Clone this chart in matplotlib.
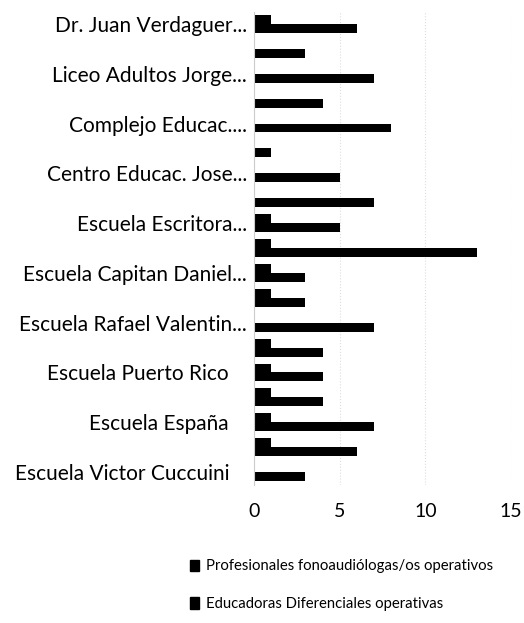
import matplotlib
matplotlib.use("Agg")
import matplotlib.pyplot as plt
from matplotlib.patches import Patch
from matplotlib.transforms import ScaledTranslation
import numpy as np

plt.rcParams['font.family'] = ['Lato', 'DejaVu Sans']

# categories from bottom to top; Excel only shows every other label
labels = ["Escuela Victor Cuccuini", "", "Escuela España", "", "Escuela Puerto Rico", "",
          "Escuela Rafael Valentin...", "", "Escuela Capitan Daniel...", "",
          "Escuela Escritora...", "", "Centro Educac. Jose...", "", "Complejo Educac....", "",
          "Liceo Adultos Jorge...", "", "Dr. Juan Verdaguer..."]
fono = [0, 1, 1, 1, 1, 1, 0, 1, 1, 1, 1, 0, 0, 0, 0, 0, 0, 0, 1]
educ = [3, 6, 7, 4, 4, 4, 7, 3, 3, 13, 5, 7, 5, 1, 8, 4, 7, 3, 6]
series_names = ["Profesionales fonoaudiólogas/os operativos",
                "Educadoras Diferenciales operativas"]

fig = plt.figure(figsize=(5.24, 6.23), dpi=100)
ax = fig.add_axes([254/524, 1-484.5/623, 257/524, 473/623])

y = np.arange(len(labels))
h = 0.36
ax.barh(y + h/2, fono, height=h, color='black')
ax.barh(y - h/2, educ, height=h, color='black')

ax.set_xlim(0, 15)
ax.set_ylim(-0.5, len(labels) - 0.5)
ax.set_xticks([0, 5, 10, 15])
ax.set_yticks(y[::2])
ax.set_yticklabels(labels[::2])
ax.tick_params(axis='y', length=0, labelsize=15, pad=5)
ax.tick_params(axis='x', length=0, labelsize=14, pad=13)
# full (not truncated) labels sit a bit further left, as in Excel
for lab in ax.get_yticklabels():
    if not lab.get_text().endswith("..."):
        lab.set_transform(lab.get_transform() + ScaledTranslation(-18/100, 0, fig.dpi_scale_trans))
ax.grid(axis='x', color='#dddddd', linestyle=':', linewidth=0.8)
ax.set_axisbelow(True)
for s in ['top', 'right', 'bottom']:
    ax.spines[s].set_visible(False)
ax.spines['left'].set_color('#cccccc')

handles = [Patch(color='black'), Patch(color='black')]
fig.legend(handles, series_names, loc='upper left', bbox_to_anchor=(177/524, 1-546/623),
           frameon=False, fontsize=10.7, handlelength=0.6, handleheight=0.8,
           handletextpad=0.45, labelspacing=1.6)

fig.savefig("out.png", dpi=100)
